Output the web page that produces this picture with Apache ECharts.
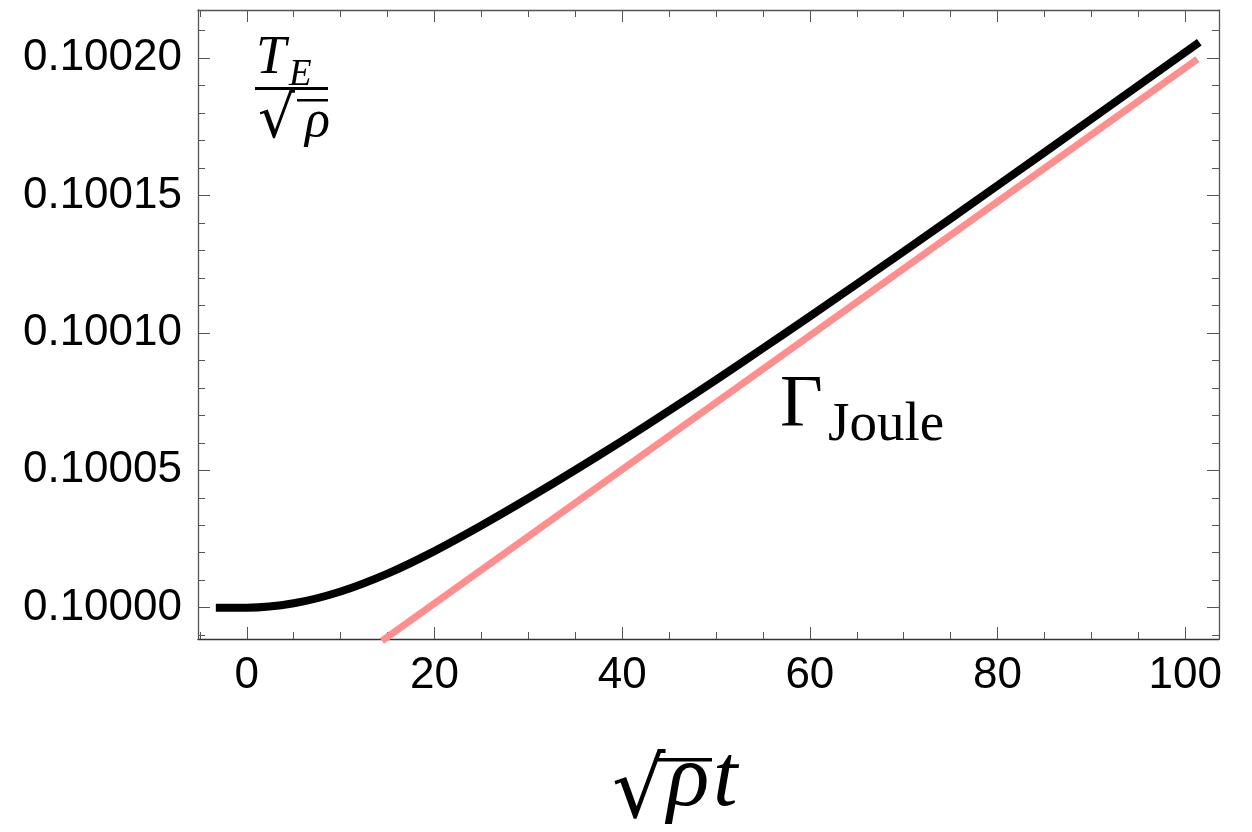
<!DOCTYPE html>
<html>
<head>
<meta charset="utf-8">
<script src="https://cdn.jsdelivr.net/npm/echarts@6/dist/echarts.min.js"></script>
<style>
html,body{margin:0;padding:0;background:#fff;}
#chart{width:1252px;height:832px;}
</style>
</head>
<body>
<div id="chart"></div>
<script>
// ---- data ----
const blackX = [-3.3, 0, 5, 10, 15, 20, 25, 30, 35, 40, 45, 50, 55, 60, 70, 80, 90, 101.5];
const blackY = [0.1, 0.1, 0.1000016, 0.1000059, 0.1000124, 0.1000206, 0.1000299, 0.1000398, 0.1000501,
  0.1000607, 0.1000717, 0.1000829, 0.1000944, 0.100106, 0.1001296, 0.1001536, 0.1001778, 0.1002058];
const jouleX = [14.4, 101.3];
const jouleY = [0.0999879, 0.1001996];
const xMajorTicks = [0, 20, 40, 60, 80, 100];
const xMinorTicks = [-5, 5, 10, 15, 25, 30, 35, 45, 50, 55, 65, 70, 75, 85, 90, 95];
const yMajorTicks = [0.1, 0.10005, 0.1001, 0.10015, 0.1002];
const yMinorTicks = [0.09999, 0.10001, 0.10002, 0.10003, 0.10004, 0.10006, 0.10007, 0.10008, 0.10009,
  0.10011, 0.10012, 0.10013, 0.10014, 0.10016, 0.10017, 0.10018, 0.10019, 0.10021];

const X_MIN = -5.2, X_MAX = 103.6;
const Y_MIN = 0.0999886, Y_MAX = 0.1002175;

const chart = echarts.init(document.getElementById('chart'), null, {renderer: 'canvas'});
const frameColor = '#555';
const tickColor = '#555';
const labelFont = {fontFamily: 'Liberation Sans, Arial, sans-serif', fontSize: 44, color: '#000'};

function xAxisDef(pos, ticks, len, showLabel, showLine, lineColor) {
  return {
    type: 'value', position: pos, min: X_MIN, max: X_MAX, gridIndex: 0,
    axisLine: {show: showLine, onZero: false, lineStyle: {color: lineColor || frameColor, width: 1.3}},
    axisTick: {show: true, inside: true, length: len, customValues: ticks, lineStyle: {color: tickColor, width: 1}},
    axisLabel: {show: showLabel, customValues: ticks, margin: 15, ...labelFont},
    splitLine: {show: false}
  };
}
function yAxisDef(pos, ticks, len, showLabel, showLine) {
  return {
    type: 'value', position: pos, min: Y_MIN, max: Y_MAX, gridIndex: 0,
    axisLine: {show: showLine, onZero: false, lineStyle: {color: frameColor, width: 1.3}},
    axisTick: {show: true, inside: true, length: len, customValues: ticks, lineStyle: {color: tickColor, width: 1}},
    axisLabel: {show: showLabel, customValues: ticks, margin: 16, formatter: v => v.toFixed(5), ...labelFont},
    splitLine: {show: false}
  };
}

const serif = 'Liberation Serif, DejaVu Serif, serif';

const option = {
  backgroundColor: '#fff',
  animation: false,
  grid: {left: 198, right: 33, top: 10, bottom: 193, containLabel: false},
  xAxis: [
    xAxisDef('bottom', xMajorTicks, 12, true, true, '#333'),
    xAxisDef('bottom', xMinorTicks, 7, false, false),
    xAxisDef('top', xMajorTicks, 12, false, true),
    xAxisDef('top', xMinorTicks, 7, false, false)
  ],
  yAxis: [
    yAxisDef('left', yMajorTicks, 12, true, true),
    yAxisDef('left', yMinorTicks, 7, false, false),
    yAxisDef('right', yMajorTicks, 12, false, true),
    yAxisDef('right', yMinorTicks, 7, false, false)
  ],
  series: [
    {
      type: 'line', xAxisIndex: 0, yAxisIndex: 0, showSymbol: false, clip: false,
      data: jouleX.map((x, i) => [x, jouleY[i]]),
      lineStyle: {color: '#ff8f8f', width: 7, cap: 'butt'}, z: 2
    },
    {
      type: 'line', xAxisIndex: 0, yAxisIndex: 0, showSymbol: false, smooth: 0.3,
      data: blackX.map((x, i) => [x, blackY[i]]),
      lineStyle: {color: '#000', width: 8, cap: 'butt'}, z: 3
    }
  ],
  graphic: [
    // T_E / sqrt(rho)
    {type: 'text', x: 256, y: 59, style: {text: 'T', font: 'italic 54px ' + serif, fill: '#000', textVerticalAlign: 'middle'}},
    {type: 'text', x: 289, y: 75, style: {text: 'E', font: 'italic 37px ' + serif, fill: '#000', textVerticalAlign: 'middle'}},
    {type: 'rect', shape: {x: 255, y: 87, width: 73, height: 3}, style: {fill: '#000'}},
    {type: 'text', x: 258, y: 122, style: {text: '√', font: '58px DejaVu Serif', fill: '#000', textVerticalAlign: 'middle'}},
    {type: 'rect', shape: {x: 297, y: 99, width: 31, height: 2.5}, style: {fill: '#000'}},
    {type: 'text', x: 305, y: 122, style: {text: 'ρ', font: 'italic 52px ' + serif, fill: '#000', textVerticalAlign: 'middle'}},
    // Gamma_Joule
    {type: 'text', x: 780, y: 407, style: {text: 'Γ', font: '74px ' + serif, fill: '#000', textVerticalAlign: 'middle'}},
    {type: 'text', x: 828, y: 426, style: {text: 'Joule', font: '55px ' + serif, fill: '#000', textVerticalAlign: 'middle'}},
    // x axis title sqrt(rho) t
    {type: 'text', x: 612, y: 795, style: {text: '√', font: '84px DejaVu Serif', fill: '#000', textVerticalAlign: 'middle'}},
    {type: 'rect', shape: {x: 654, y: 758, width: 58, height: 3.5}, style: {fill: '#000'}},
    {type: 'text', x: 667, y: 782, style: {text: 'ρ', font: 'italic 88px ' + serif, fill: '#000', textVerticalAlign: 'middle'}},
    {type: 'text', x: 713, y: 782, style: {text: 't', font: 'italic 88px ' + serif, fill: '#000', textVerticalAlign: 'middle'}}
  ]
};
chart.setOption(option);
</script>
</body>
</html>
